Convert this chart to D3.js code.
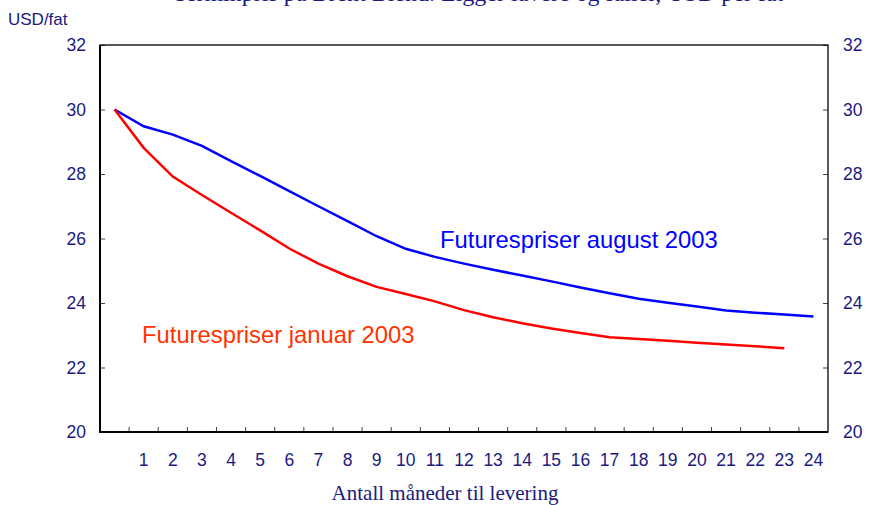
<!DOCTYPE html>
<html>
<head>
<meta charset="utf-8">
<script src="https://cdn.jsdelivr.net/npm/d3@7"></script>
<style>
  body { margin: 0; background: #fff; }
  svg { display: block; }
  .axis text { font-family: Arial, "Liberation Sans", sans-serif; font-size: 17.5px; fill: #1a1a80; }
  .axis path { display: none; }
</style>
</head>
<body>
<div id="chart"></div>
<script>
// months to delivery (0 = spot)
let months = d3.range(0, 25);
let monthLabels = months.map(m => m === 0 ? '' : String(m));

// USD per barrel
let augustPrices = [30.0, 29.48, 29.22, 28.87, 28.4, 27.94, 27.47, 27.0, 26.54, 26.07,
                    25.68, 25.43, 25.22, 25.03, 24.85, 24.67, 24.48, 24.3, 24.13, 24.01,
                    23.89, 23.77, 23.7, 23.64, 23.58];
let januaryPrices = [30.0, 28.81, 27.92, 27.35, 26.8, 26.25, 25.69, 25.22, 24.83, 24.5,
                     24.28, 24.05, 23.78, 23.56, 23.37, 23.21, 23.07, 22.94, 22.88, 22.83,
                     22.77, 22.71, 22.66, 22.6];
let yTicks = [20, 22, 24, 26, 28, 30, 32];

let svgWidth = 869, svgHeight = 505;
let plotLeft = 100, plotRight = 828, plotTop = 45, plotBottom = 432;

let svg = d3.select('#chart')
    .append('svg')
    .attr('width', svgWidth)
    .attr('height', svgHeight);

let x = d3.scaleBand()
    .domain(months)
    .range([plotLeft, plotRight]);

let y = d3.scaleLinear()
    .domain([20, 32])
    .range([plotBottom, plotTop]);

let cx = m => x(m) + x.bandwidth() / 2;

// title, mostly cut off at the top of the picture
svg.append('text')
    .attr('x', 478)
    .attr('y', 1)
    .attr('text-anchor', 'middle')
    .style('font-family', '"Liberation Serif", "Times New Roman", serif')
    .style('font-size', '24px')
    .attr('fill', '#1a1a80')
    .text('Terminpris på Brent Blend. Ligger lavere og faller, USD per fat');

svg.append('text')
    .attr('x', 8)
    .attr('y', 25)
    .style('font-family', 'Arial, "Liberation Sans", sans-serif')
    .style('font-size', '17px')
    .attr('fill', '#1a1a80')
    .text('USD/fat');

// left and right value axes, ticks pointing inwards
svg.append('g')
    .attr('class', 'axis')
    .attr('transform', `translate(${plotLeft},0)`)
    .call(d3.axisLeft(y).tickValues(yTicks).tickSize(-5).tickPadding(14))
    .selectAll('line').attr('stroke', '#444');

svg.append('g')
    .attr('class', 'axis')
    .attr('transform', `translate(${plotRight},0)`)
    .call(d3.axisRight(y).tickValues(yTicks).tickSize(-5).tickPadding(15))
    .selectAll('line').attr('stroke', '#444');

// month labels at the band centres
svg.append('g')
    .attr('class', 'axis')
    .attr('transform', `translate(0,${plotBottom})`)
    .call(d3.axisBottom(x).tickFormat((d, i) => monthLabels[i]).tickSize(0).tickPadding(22));

// tick marks on the band boundaries
svg.append('g')
    .selectAll('line')
    .data(months.slice(1))
    .enter()
    .append('line')
    .attr('x1', d => x(d))
    .attr('x2', d => x(d))
    .attr('y1', plotBottom)
    .attr('y2', plotBottom - 5)
    .attr('stroke', '#444');

// plot frame
svg.append('rect')
    .attr('x', plotLeft)
    .attr('y', plotTop)
    .attr('width', plotRight - plotLeft)
    .attr('height', plotBottom - plotTop)
    .attr('fill', 'none')
    .attr('stroke', '#000')
    .attr('stroke-width', 1.3);

svg.append('path')
    .attr('d', `M${plotLeft},${plotTop}V${plotBottom}H${plotRight}`)
    .attr('fill', 'none')
    .attr('stroke', '#000')
    .attr('stroke-width', 2);

let line = d3.line()
    .x((d, i) => cx(months[i]))
    .y(d => y(d));

svg.append('path')
    .datum(augustPrices)
    .attr('d', line)
    .attr('fill', 'none')
    .attr('stroke', '#0000ff')
    .attr('stroke-width', 2.5);

svg.append('path')
    .datum(januaryPrices)
    .attr('d', line)
    .attr('fill', 'none')
    .attr('stroke', '#ff0000')
    .attr('stroke-width', 2.5);

// series labels
svg.append('text')
    .attr('x', 440)
    .attr('y', 248)
    .style('font-family', 'Arial, "Liberation Sans", sans-serif')
    .style('font-size', '23.8px')
    .attr('fill', '#0000ff')
    .text('Futurespriser august 2003');

svg.append('text')
    .attr('x', 142)
    .attr('y', 343)
    .style('font-family', 'Arial, "Liberation Sans", sans-serif')
    .style('font-size', '23.8px')
    .attr('fill', '#ff3300')
    .text('Futurespriser januar 2003');

svg.append('text')
    .attr('x', 445)
    .attr('y', 500)
    .attr('text-anchor', 'middle')
    .style('font-family', '"Liberation Serif", "Times New Roman", serif')
    .style('font-size', '21px')
    .attr('fill', '#1a1a80')
    .text('Antall måneder til levering');
</script>
</body>
</html>
